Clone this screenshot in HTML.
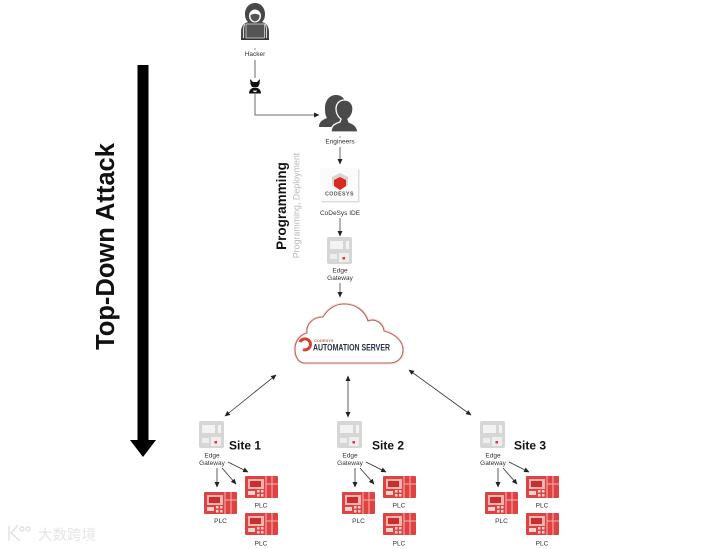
<!DOCTYPE html>
<html>
<head>
<meta charset="utf-8">
<style>
html,body{margin:0;padding:0;background:#fff;width:728px;height:549px;overflow:hidden}
svg{display:block;font-family:"Liberation Sans","Noto Sans CJK SC",sans-serif}
</style>
</head>
<body>
<svg width="728" height="549" viewBox="0 0 728 549" xmlns="http://www.w3.org/2000/svg">
<defs>
<marker id="a" markerWidth="6" markerHeight="6" refX="5" refY="2.5" orient="auto-start-reverse" markerUnits="userSpaceOnUse"><path d="M0 0L5.5 2.5L0 5z" fill="#222"/></marker>
<g id="edge">
<rect x="0" y="0" width="25" height="27" rx="2" fill="#d6d6d6"/>
<rect x="3" y="4" width="13" height="8" fill="#f3f3f3"/>
<rect x="19" y="4" width="3" height="8" fill="#f3f3f3"/>
<rect x="3" y="17" width="7" height="5" fill="#eee"/>
<rect x="12" y="16" width="10" height="9" fill="#eee"/>
<rect x="15.5" y="20" width="2.5" height="2.5" fill="#d23b3b"/>
</g>
<g id="plc">
<rect x="0" y="0" width="33" height="22" rx="1" fill="#de4343"/>
<rect x="3" y="3" width="16" height="10" fill="#f4b5b0"/>
<rect x="5" y="5" width="11" height="6" fill="#c92f2f"/>
<rect x="3" y="15" width="7" height="4" fill="#f6d2ce"/>
<rect x="12" y="14" width="2.5" height="2.5" fill="#f6d2ce"/>
<rect x="16" y="14" width="2.5" height="2.5" fill="#f6d2ce"/>
<rect x="12" y="18" width="2.5" height="2.5" fill="#f6d2ce"/>
<rect x="16" y="18" width="2.5" height="2.5" fill="#f6d2ce"/>
<path d="M21 0V22M27 0V22M21 8H33" stroke="#f4b5b0" stroke-width="1" fill="none"/>
</g>
<g id="sitebody">
<use href="#edge" x="199" y="421"/>
<text x="212" y="457.500" font-size="6.500" text-anchor="middle" fill="#333">Edge</text>
<text x="212" y="465" font-size="6.500" text-anchor="middle" fill="#333">Gateway</text>
<g stroke="#333" stroke-width=".8" fill="none">
<path d="M217 468V487" marker-end="url(#a)"/>
<path d="M222 468L236 484" marker-end="url(#a)"/>
<path d="M228 462L248 472" marker-end="url(#a)"/>
</g>
<use href="#plc" x="204" y="492"/>
<use href="#plc" x="245" y="476"/>
<use href="#plc" x="245" y="513"/>
<g font-size="6.500" text-anchor="middle" fill="#333">
<text x="220.500" y="523">PLC</text>
<text x="261" y="507.500">PLC</text>
<text x="261" y="545.500">PLC</text>
</g>
</g>
</defs>

<!-- big arrow -->
<rect x="137.500" y="65" width="11" height="376" fill="#000"/>
<path d="M130 440H156L143 457z" fill="#000"/>
<text transform="translate(114 246.500) rotate(-90)" font-size="25.500" font-weight="700" text-anchor="middle" fill="#111">Top-Down Attack</text>

<!-- hacker -->
<path d="M255 3c-6 0-10 5-10 11 0 4 1 6 3 8-4 1-7 4-7 10v8h28v-8c0-6-3-9-7-10 2-2 3-4 3-8 0-6-4-11-10-11z" fill="#484848"/>
<ellipse cx="255" cy="16" rx="6" ry="6.500" fill="#fff"/>
<path d="M250.500 15q4.500-2.500 9 0v2q-1 4-4.500 4.500-3.500-.5-4.500-4.500z" fill="#555"/>
<path d="M244.500 24q-1.500 5-1 14M265.500 24q1.500 5 1 14" stroke="#fff" stroke-width=".8" fill="none"/>
<rect x="246" y="24" width="18.500" height="14" fill="#555" stroke="#fff" stroke-width=".6"/>
<rect x="241" y="38.500" width="28" height="1.500" fill="#333"/>
<text x="255" y="56" font-size="6.500" text-anchor="middle" fill="#333">Hacker</text>
<path d="M255 48V50" stroke="#666" stroke-width=".7"/>

<path d="M255 60V78" stroke="#444" stroke-width=".8"/>
<!-- devil -->
<path d="M250 79l3 3h4l3-3-.5 5-1.500 3h-6l-1.500-3z" fill="#111"/>
<path d="M249 93.500c0-4 3-6 6-6s6 2 6 6z" fill="#111"/>
<path d="M253.500 90l1.500 1 1.500-1v2h-3z" fill="#fff"/>
<path d="M255 94V115H319" stroke="#444" stroke-width=".8" fill="none" marker-end="url(#a)"/>

<!-- engineers -->
<path d="M319 127c0-5 3-7 8-9-2-3-2-7-2-10 0-8 5-13 11-13 5 0 9 3 9 8v24z" fill="#4a4a4a"/>
<path d="M331 132c0-6 3-8 9-10l1-3c-3-2-5-6-5-10 0-6 4-9 8.500-9s8.500 3 8.500 9c0 4-2 8-5 10l1 3c5 2 8 4 9 10z" fill="#4a4a4a" stroke="#fff" stroke-width="1.300"/>
<path d="M340 136V138" stroke="#666" stroke-width=".7"/>
<text x="340" y="143.500" font-size="6.500" text-anchor="middle" fill="#333">Engineers</text>
<path d="M340 147V164" stroke="#444" stroke-width=".8" marker-end="url(#a)"/>

<!-- codesys -->
<rect x="321.500" y="169.500" width="38" height="33" fill="#dcdcdc"/>
<rect x="320" y="168" width="38" height="33" fill="#fbfbfb"/>
<path d="M340 173l8 4v8l-8 5-8-5v-8z" fill="#d9d4d2"/>
<path d="M340 177l6 3v6l-6 4-6-4v-6z" fill="#d92a20"/>
<text x="339.500" y="195.500" font-size="5.200" font-weight="700" text-anchor="middle" fill="#555" letter-spacing=".5">CODESYS</text>
<text x="340" y="215" font-size="6.500" text-anchor="middle" fill="#333">CoDeSys IDE</text>
<path d="M340 218V236" stroke="#444" stroke-width=".8" marker-end="url(#a)"/>

<use href="#edge" x="327" y="237"/>
<text x="340" y="272.500" font-size="6.500" text-anchor="middle" fill="#333">Edge</text>
<text x="340" y="280" font-size="6.500" text-anchor="middle" fill="#333">Gateway</text>
<path d="M340 283V297" stroke="#444" stroke-width=".8" marker-end="url(#a)"/>

<text transform="translate(286 206) rotate(-90)" font-size="13.500" font-weight="700" text-anchor="middle" fill="#111">Programming</text>
<text transform="translate(299.500 205.500) rotate(-90)" font-size="8.900" text-anchor="middle" fill="#b8b8b8">Programming, Deployment</text>

<!-- cloud -->
<path d="M305 363C298 363 295 356 295 349C295 341 300 335 307 333C306 324 313 317 323 317C328 309 335 304 344 304C356 304 365 311 368 321C375 318 383 323 384 331C395 334 403 341 403 350C403 358 397 363 390 363Z" fill="#fff" stroke="#f8dcd8" stroke-width="3"/>
<path d="M305 363C298 363 295 356 295 349C295 341 300 335 307 333C306 324 313 317 323 317C328 309 335 304 344 304C356 304 365 311 368 321C375 318 383 323 384 331C395 334 403 341 403 350C403 358 397 363 390 363Z" fill="#fff" stroke="#b5675f" stroke-width="1.100"/>
<path d="M300 342a5.500 5.500 0 1 1 3 7.500" fill="none" stroke="#d8402f" stroke-width="3"/>
<text x="314" y="342" font-size="4" font-weight="700" fill="#c96a5a">CODESYS</text>
<text x="313" y="350.500" font-size="9" font-weight="700" fill="#2a3045" textLength="77" lengthAdjust="spacingAndGlyphs">AUTOMATION SERVER</text>

<!-- connections -->
<g stroke="#333" stroke-width=".8" fill="none">
<path d="M225 416L276 375" marker-start="url(#a)" marker-end="url(#a)"/>
<path d="M348 376V417" marker-start="url(#a)" marker-end="url(#a)"/>
<path d="M409 370L471 415" marker-start="url(#a)" marker-end="url(#a)"/>
</g>

<!-- sites -->
<use href="#sitebody"/>
<text x="229" y="449.500" font-size="12" font-weight="700" fill="#111">Site 1</text>
<use href="#sitebody" x="138"/>
<text x="372" y="449.500" font-size="12" font-weight="700" fill="#111">Site 2</text>
<use href="#sitebody" x="281"/>
<text x="514" y="449.500" font-size="12" font-weight="700" fill="#111">Site 3</text>

<!-- watermark -->
<g fill="none" stroke="#dcdcdc" stroke-width="1.200">
<path d="M9 526V541M18 525L11 533L20 541"/>
<circle cx="22" cy="529" r="2"/>
<circle cx="28" cy="529" r="2"/>
</g>
<text x="38" y="540" font-size="14.500" fill="#e6e6e6">大数跨境</text>
</svg>
</body>
</html>
